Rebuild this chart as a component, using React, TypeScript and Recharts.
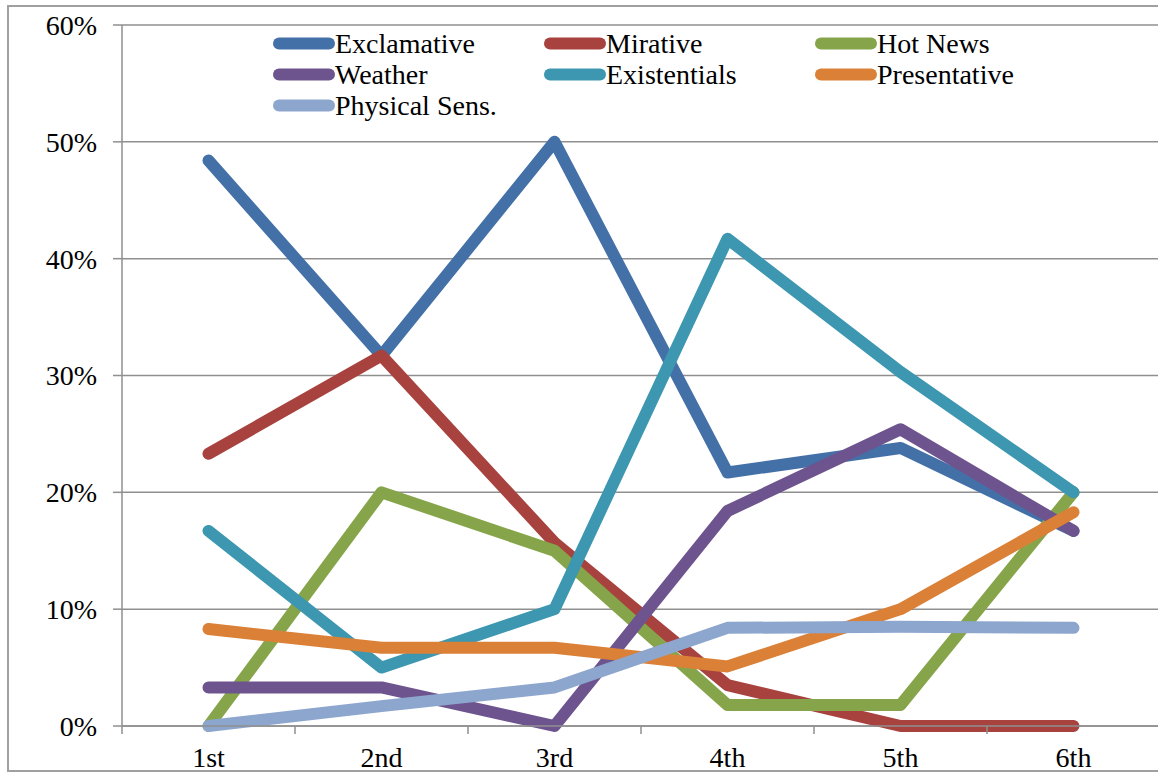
import React from 'react';
import { LineChart, Line, XAxis, YAxis, CartesianGrid, Legend } from 'recharts';

const categories = ['1st', '2nd', '3rd', '4th', '5th', '6th'];
const exclamative = [0.484, 0.317, 0.5, 0.217, 0.238, 0.167];
const mirative = [0.233, 0.317, 0.157, 0.035, 0, 0];
const hotNews = [0, 0.2, 0.15, 0.018, 0.018, 0.2];
const weather = [0.033, 0.033, 0, 0.184, 0.254, 0.167];
const existentials = [0.167, 0.05, 0.1, 0.417, 0.303, 0.2];
const presentative = [0.083, 0.067, 0.067, 0.051, 0.1, 0.183];
const physicalSens = [0, 0.017, 0.033, 0.084, 0.085, 0.084];
const yTicks = [0, 0.1, 0.2, 0.3, 0.4, 0.5, 0.6];

const seriesDefs = [
  { key: 'Exclamative', values: exclamative, color: '#4470A8' },
  { key: 'Mirative', values: mirative, color: '#A8423F' },
  { key: 'Hot News', values: hotNews, color: '#86A54A' },
  { key: 'Weather', values: weather, color: '#6E548E' },
  { key: 'Existentials', values: existentials, color: '#3D97B0' },
  { key: 'Presentative', values: presentative, color: '#DB8037' },
  { key: 'Physical Sens.', values: physicalSens, color: '#8DA6CE' },
];

const data = categories.map((c, i) => {
  const row: Record<string, any> = { pos: i + 0.5, cat: c };
  seriesDefs.forEach((s) => {
    row[s.key] = s.values[i];
  });
  return row;
});

const xTicks = categories.flatMap((_, i) => [i, i + 0.5]).concat([categories.length]);

const FONT = '"Liberation Serif", serif';
const GRID = '#8f8f8f';
const FS = 28;

const XTick = (props: any) => {
  const { x, y, payload } = props;
  const v = payload.value;
  if (Number.isInteger(v)) {
    return <line x1={x} x2={x} y1={y} y2={y + 8} stroke={GRID} strokeWidth={1.5} />;
  }
  return (
    <text x={x} y={y + 41} textAnchor="middle" fontSize={FS} fontFamily={FONT} fill="#000">
      {categories[Math.floor(v)]}
    </text>
  );
};

const LegendContent = (props: any) => {
  const payload: any[] = props.payload || [];
  const ordered = seriesDefs
    .map((s) => payload.find((p: any) => p.value === s.key))
    .filter(Boolean);
  return (
    <div
      style={{
        display: 'grid',
        gridTemplateColumns: '271px 271px 271px',
        fontFamily: FONT,
        fontSize: FS,
        color: '#000',
      }}
    >
      {ordered.map((p: any) => (
        <div key={p.value} style={{ display: 'flex', alignItems: 'center', height: 31 }}>
          <svg width={62} height={31} style={{ display: 'block' }}>
            <line x1={6} x2={56} y1={15.5} y2={15.5} stroke={p.color} strokeWidth={12} strokeLinecap="round" />
          </svg>
          <span style={{ lineHeight: '31px', whiteSpace: 'nowrap' }}>{p.value}</span>
        </div>
      ))}
    </div>
  );
};

export default function App() {
  return (
    <div style={{ position: 'absolute', left: 0, top: 0, width: 1158, height: 774, overflow: 'hidden', background: '#fff' }}>
      <div
        style={{
          position: 'absolute',
          left: 7,
          top: 5,
          width: 1165,
          height: 763,
          border: '2px solid #a0a0a0',
        }}
      >
        <LineChart width={1165} height={772} data={data} margin={{ top: 18, right: 14, bottom: 13, left: 33 }} style={{ overflow: 'visible' }}>
          <CartesianGrid vertical={false} stroke={GRID} strokeWidth={1.5} />
          <XAxis
            type="number"
            dataKey="pos"
            domain={[0, categories.length]}
            ticks={xTicks}
            interval={0}
            tickSize={0}
            tickMargin={0}
            tickLine={false}
            axisLine={{ stroke: GRID, strokeWidth: 1.5 }}
            tick={<XTick />}
            height={40}
          />
          <YAxis
            type="number"
            domain={[0, 0.6]}
            ticks={yTicks}
            interval={0}
            width={80}
            tickSize={9}
            tickMargin={16}
            tickLine={{ stroke: GRID, strokeWidth: 1.5 }}
            axisLine={{ stroke: GRID, strokeWidth: 1.5 }}
            tickFormatter={(v: number) => `${Math.round(v * 100)}%`}
            tick={{ fill: '#000', fontSize: FS, fontFamily: FONT }}
          />
          <Legend
            layout="horizontal"
            align="center"
            verticalAlign="middle"
            content={<LegendContent />}
            wrapperStyle={{ position: 'absolute', top: 21, left: 264, width: 813, bottom: 'auto' }}
          />
          {seriesDefs.map((s) => (
            <Line
              key={s.key}
              type="linear"
              dataKey={s.key}
              name={s.key}
              stroke={s.color}
              strokeWidth={12}
              strokeLinecap="round"
              strokeLinejoin="round"
              dot={false}
              activeDot={false}
              isAnimationActive={false}
            />
          ))}
        </LineChart>
      </div>
    </div>
  );
}
